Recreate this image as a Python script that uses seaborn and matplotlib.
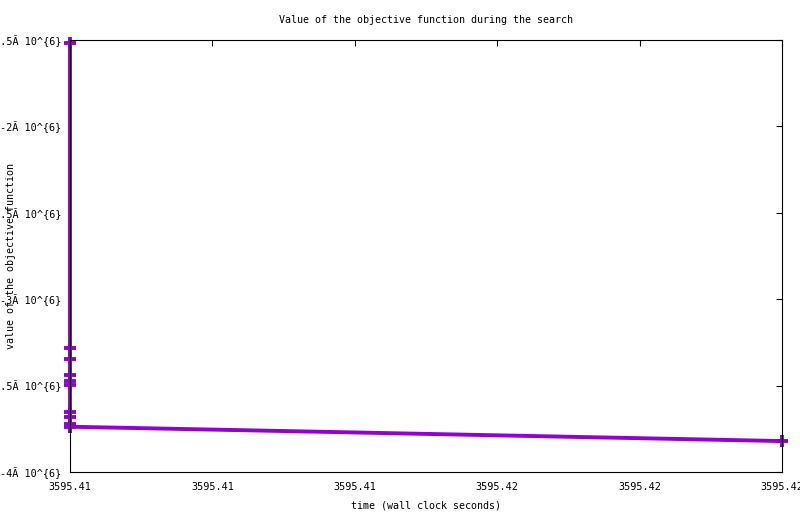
import matplotlib
matplotlib.use("Agg")
import matplotlib.pyplot as plt
import seaborn as sns
from matplotlib.ticker import FormatStrFormatter

# search trace: wall clock time and objective value
times = [3595.410, 3595.410, 3595.410, 3595.410, 3595.410, 3595.410,
         3595.410, 3595.410, 3595.410, 3595.410, 3595.420]
objective = [-1.519e6, -3.281e6, -3.344e6, -3.437e6, -3.472e6, -3.498e6,
             -3.651e6, -3.683e6, -3.724e6, -3.738e6, -3.821e6]

x_ticks = [3595.410, 3595.412, 3595.414, 3595.416, 3595.418, 3595.420]
y_ticks = [-4e6, -3.5e6, -3e6, -2.5e6, -2e6, -1.5e6]
y_tick_labels = ["-4Ã 10^{6}", "-3.5Ã 10^{6}", "-3Ã 10^{6}",
                 "-2.5Ã 10^{6}", "-2Ã 10^{6}", "-1.5Ã 10^{6}"]

sns.set_style("white")
plt.rcParams["font.family"] = ["DejaVu Sans Mono"]
plt.rcParams["font.size"] = 7
plt.rcParams["text.color"] = "black"
plt.rcParams["axes.labelcolor"] = "black"
plt.rcParams["xtick.color"] = "black"
plt.rcParams["ytick.color"] = "black"

fig = plt.figure(figsize=(8, 5.14), dpi=100)
ax = fig.add_axes([70 / 800, 1 - 472 / 514, 712 / 800, 432 / 514])

sns.lineplot(x=times, y=objective, ax=ax, sort=False, estimator=None,
             color="#9400D3", linewidth=2.8, marker="+", markersize=8.5,
             markeredgewidth=2.8, markeredgecolor="#9400D3", clip_on=False,
             zorder=1)

ax.set_xlim(3595.410, 3595.420)
ax.set_ylim(-4e6, -1.5e6)
ax.set_xticks(x_ticks)
ax.xaxis.set_major_formatter(FormatStrFormatter("%.2f"))
ax.set_yticks(y_ticks)
ax.set_yticklabels(y_tick_labels)

for s in ax.spines.values():
    s.set_visible(True)
    s.set_color("black")
    s.set_linewidth(0.8)
    s.set_zorder(3)

ax.tick_params(axis="both", direction="in", length=4, width=0.8,
               colors="black", labelsize=7.3, top=True, right=True)
ax.tick_params(axis="x", pad=7)
ax.tick_params(axis="y", pad=6)

ax.set_title("Value of the objective function during the search",
             fontsize=7.2, pad=12)
ax.set_xlabel("time (wall clock seconds)", fontsize=7.2)
ax.xaxis.set_label_coords(0.5, -33 / 432)
ax.xaxis.label.set_verticalalignment("center")
ax.set_ylabel("value of the objective function", fontsize=7.2)
ax.yaxis.set_label_coords(-59 / 712, 0.5)
ax.yaxis.label.set_verticalalignment("center")

fig.savefig("out.png", dpi=100)
